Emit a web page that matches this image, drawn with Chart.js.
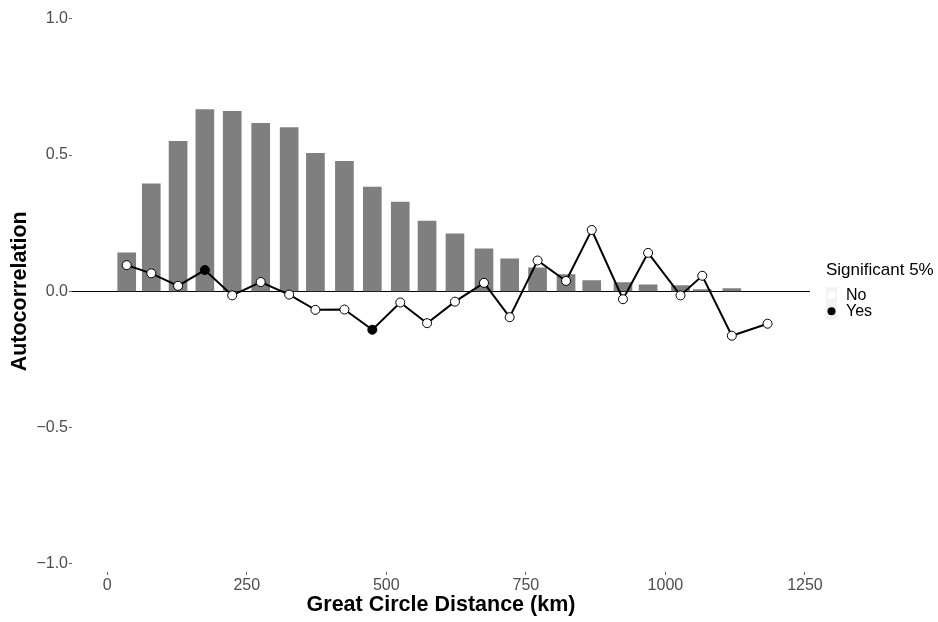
<!DOCTYPE html>
<html>
<head>
<meta charset="utf-8">
<script src="https://cdn.jsdelivr.net/npm/chart.js@4/dist/chart.umd.min.js"></script>
<style>
  html, body { margin: 0; padding: 0; background: #fff; }
  #wrap { width: 938px; height: 622px; position: relative; }
</style>
</head>
<body>
<div id="wrap"><canvas id="chart"></canvas></div>
<script>
/* Spatial correlogram — bars + line with significance markers */

// distance class centres (km)
const distances = [35, 79, 127, 175, 224, 275, 326, 373, 425, 475, 525, 573,
    623, 675, 721, 771, 822, 868, 924, 969, 1027, 1066, 1119, 1183];

// grey bars (one per class, the last class has none)
const barValues = [0.141, 0.394, 0.550, 0.667, 0.660, 0.616, 0.601, 0.506,
    0.477, 0.382, 0.327, 0.258, 0.211, 0.156, 0.119, 0.086, 0.061, 0.039,
    0.032, 0.024, 0.021, 0.006, 0.010];

// correlogram line
const lineValues = [0.096, 0.066, 0.020, 0.078, -0.015, 0.034, -0.012, -0.068,
    -0.067, -0.141, -0.041, -0.117, -0.038, 0.031, -0.095, 0.113, 0.038, 0.225,
    -0.029, 0.141, -0.015, 0.057, -0.163, -0.119];

// significant at 5%?
const significant = [false, false, false, true, false, false, false, false,
    false, true, false, false, false, false, false, false, false, false,
    false, false, false, false, false, false];

const xTicks = [0, 250, 500, 750, 1000, 1250];
const yTicks = [-1, -0.5, 0, 0.5, 1];
const legendLabels = ['No', 'Yes'];
const legendTitle = 'Significant 5%';

const FONT = "'Liberation Sans', Arial, Helvetica, sans-serif";
const COLORS = {
    bar: '#7f7f7f',
    line: '#000000',
    tick: '#4d4d4d',
    key: '#f2f2f2',
};
const sigColor = s => s ? '#000000' : '#ffffff';

const barData = barValues.map((v, i) => ({ x: distances[i], y: v }));
const lineData = lineValues.map((v, i) => ({ x: distances[i], y: v }));

// legend drawn by hand so it sits like the ggplot one
const sigLegend = {
    id: 'sigLegend',
    afterDraw(chart) {
        const ctx = chart.ctx;
        const left = chart.chartArea.right + 16;
        const mid = (chart.chartArea.top + chart.chartArea.bottom) / 2;
        ctx.save();
        ctx.textBaseline = 'middle';
        ctx.textAlign = 'left';
        ctx.fillStyle = '#000';
        ctx.font = '17px ' + FONT;
        ctx.fillText(legendTitle, left, mid - 21);
        ctx.font = '16px ' + FONT;
        legendLabels.forEach((lab, i) => {
            const cy = mid + 4 + i * 16;
            ctx.fillStyle = COLORS.key;
            ctx.fillRect(left, cy - 8, 11, 16);
            ctx.beginPath();
            ctx.arc(left + 5.5, cy, 4, 0, Math.PI * 2);
            ctx.fillStyle = sigColor(i === 1);
            ctx.fill();
            ctx.fillStyle = '#000';
            ctx.fillText(lab, left + 20, cy);
        });
        ctx.restore();
    },
};

new Chart(document.getElementById('chart'), {
    type: 'bar',
    data: {
        datasets: [
            {
                type: 'line',
                label: 'Correlogram',
                data: lineData,
                borderColor: COLORS.line,
                borderWidth: 2,
                tension: 0,
                pointRadius: 4.5,
                pointBorderWidth: 1,
                pointBorderColor: '#000',
                pointBackgroundColor: significant.map(sigColor),
                order: 1,
            },
            {
                label: 'Bars',
                data: barData,
                backgroundColor: COLORS.bar,
                barThickness: 18,
                order: 2,
            },
        ],
    },
    options: {
        responsive: true,
        maintainAspectRatio: false,
        animation: false,
        layout: { padding: { top: 7, right: 128, left: 0, bottom: 0 } },
        scales: {
            x: {
                type: 'linear',
                min: -63,
                max: 1259,
                offset: false,
                afterBuildTicks: s => { s.ticks = xTicks.map(v => ({ value: v })); },
                afterFit: s => { s.height = 50; },
                border: { display: false },
                grid: {
                    offset: false,
                    drawOnChartArea: false,
                    tickLength: 3,
                    tickColor: '#666',
                },
                ticks: {
                    font: { family: FONT, size: 16 },
                    color: COLORS.tick,
                    padding: 1,
                    maxRotation: 0,
                    callback: v => String(v),
                },
                title: {
                    display: true,
                    text: 'Great Circle Distance (km)',
                    font: { family: FONT, size: 21.5, weight: 'bold' },
                    color: '#000',
                    padding: { bottom: 4 },
                },
            },
            y: {
                min: -1.03,
                max: 1.03,
                afterBuildTicks: s => { s.ticks = yTicks.map(v => ({ value: v })); },
                afterFit: s => { s.width = 72; },
                border: { display: false },
                grid: {
                    color: ctx => ctx.tick && ctx.tick.value === 0 ? '#000' : 'rgba(0,0,0,0)',
                    lineWidth: 1,
                    tickLength: 3,
                    tickColor: '#666',
                },
                ticks: {
                    font: { family: FONT, size: 16 },
                    color: COLORS.tick,
                    padding: 1,
                    callback: v => v.toFixed(1).replace('-', '\u2212'),
                },
                title: {
                    display: true,
                    text: 'Autocorrelation',
                    font: { family: FONT, size: 21.5, weight: 'bold' },
                    color: '#000',
                    padding: { top: 7 },
                },
            },
        },
        plugins: {
            legend: { display: false },
            tooltip: { enabled: false },
        },
    },
    plugins: [sigLegend],
});
</script>
</body>
</html>
